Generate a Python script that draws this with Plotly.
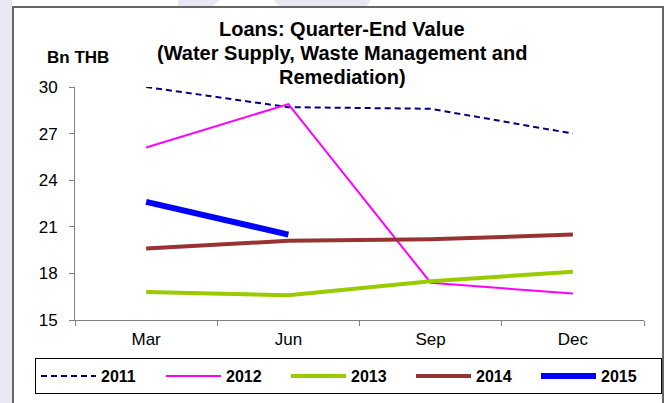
import plotly.graph_objects as go

# Quarter-end loan values, Bn THB
quarters = ["Mar", "Jun", "Sep", "Dec"]
loans_2011 = [30.0, 28.7, 28.6, 27.0]
loans_2012 = [26.1, 28.9, 17.4, 16.7]
loans_2013 = [16.8, 16.6, 17.5, 18.1]
loans_2014 = [19.6, 20.1, 20.2, 20.5]
loans_2015 = [22.6, 20.5]

y_ticks = [15, 18, 21, 24, 27, 30]

title_lines = [
    "Loans: Quarter-End Value",
    "(Water Supply, Waste Management and",
    "Remediation)",
]

FONT = "Liberation Sans, Arial, sans-serif"
BACKDROP = "#e8e8f2"

# plot-area geometry in pixels (used to place decorations in paper coords)
W, H = 670, 403
L, R, T, B = 75, 26, 87, 83
PW, PH = W - L - R, H - T - B


def px_x(x):
    return (x - L) / PW


def px_y(y):
    return (H - B - y) / PH


def px_path(points):
    return "M " + " L ".join("%.4f,%.4f" % (px_x(x), px_y(y)) for x, y in points) + " Z"


fig = go.Figure()

series = [
    ("2011", quarters, loans_2011, dict(color="#000080", width=2, dash="6px,4px")),
    ("2012", quarters, loans_2012, dict(color="#ff00ff", width=2)),
    ("2013", quarters, loans_2013, dict(color="#99cc00", width=4)),
    ("2014", quarters, loans_2014, dict(color="#993333", width=4)),
    ("2015", quarters[:len(loans_2015)], loans_2015, dict(color="#0000ff", width=6)),
]
for name, xs, ys, line in series:
    fig.add_trace(go.Scatter(x=xs, y=ys, name=name, mode="lines", line=line))

shapes = [
    # light backdrop showing around the framed chart
    dict(type="rect", xref="paper", yref="paper",
         x0=px_x(0), x1=px_x(12), y0=px_y(H + 5), y1=px_y(-5),
         fillcolor=BACKDROP, line=dict(width=0), layer="below"),
    dict(type="path", xref="paper", yref="paper",
         path=px_path([(178, -2), (222, -2), (212, 7), (178, 7)]),
         fillcolor=BACKDROP, line=dict(width=0), layer="below"),
    dict(type="path", xref="paper", yref="paper",
         path=px_path([(272, -2), (372, -2), (366, 7), (280, 7)]),
         fillcolor=BACKDROP, line=dict(width=0), layer="below"),
    # outer frame
    dict(type="rect", xref="paper", yref="paper",
         x0=px_x(13), x1=px_x(663), y0=px_y(H + 10), y1=px_y(7),
         fillcolor="rgba(0,0,0,0)", line=dict(color="#666666", width=2)),
]

annotations = [
    dict(text="<b>Bn THB</b>", xref="paper", yref="paper",
         x=px_x(78), y=px_y(58), xanchor="center", yanchor="middle",
         showarrow=False, font=dict(size=17, family=FONT)),
]
for i, line_text in enumerate(title_lines):
    annotations.append(
        dict(text="<b>%s</b>" % line_text, xref="paper", yref="paper",
             x=px_x(342), y=px_y(29 + 24 * i), xanchor="center", yanchor="middle",
             showarrow=False, font=dict(size=20, family=FONT, color="black"))
    )

fig.update_layout(
    width=W, height=H,
    margin=dict(l=L, r=R, t=T, b=B, autoexpand=False),
    paper_bgcolor="white", plot_bgcolor="white",
    font=dict(family=FONT, color="black"),
    xaxis=dict(
        type="category", range=[-0.5, 3.5],
        tickson="boundaries", ticks="outside", ticklen=5, tickcolor="#808080",
        showline=True, linecolor="#808080", linewidth=1,
        showgrid=False, zeroline=False, ticklabelstandoff=4,
        tickfont=dict(size=17, family=FONT),
    ),
    yaxis=dict(
        range=[15, 30], tickvals=y_ticks,
        ticks="outside", ticklen=5, tickcolor="#808080",
        showline=True, linecolor="#808080", linewidth=1,
        showgrid=False, zeroline=False, ticklabelstandoff=8,
        tickfont=dict(size=17, family=FONT),
    ),
    legend=dict(
        orientation="h", x=px_x(35), y=px_y(358),
        xanchor="left", yanchor="top",
        bordercolor="black", borderwidth=1,
        font=dict(size=16, family=FONT, weight="bold"),
        itemwidth=55, entrywidth=55, tracegroupgap=0,
    ),
    shapes=shapes,
    annotations=annotations,
)

fig.write_html("out.html")
